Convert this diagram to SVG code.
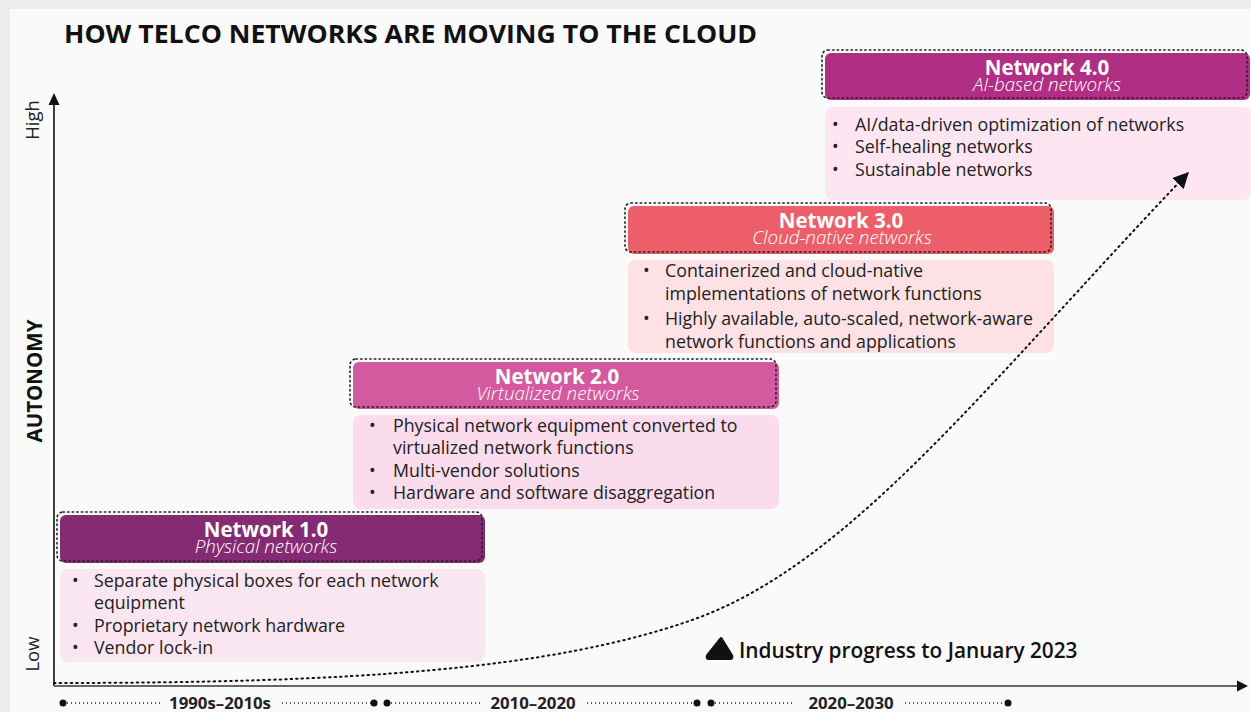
<svg xmlns="http://www.w3.org/2000/svg" width="1251" height="712" viewBox="0 0 1251 712">
<defs>
<style>
text{font-family:"Open Sans","Liberation Sans",sans-serif;}
.title{font-size:25px;font-weight:700;fill:#111;}
.hd{text-anchor:middle;fill:#fff;}
.hd1{font-size:20.5px;font-weight:700;}
.sub{font-size:18.8px;font-style:italic;font-weight:300;}
.bl{font-size:17.8px;fill:#222;}
.dot{fill:none;stroke:#222;stroke-width:1.6;stroke-dasharray:1.4 3.2;stroke-linecap:round;}
.tl{font-size:16.8px;font-weight:700;fill:#222;text-anchor:middle;}
.tld{fill:none;stroke:#222;stroke-width:1.4;stroke-dasharray:1 3;}
.ax{font-size:18.5px;fill:#222;}
</style>
<marker id="curveArrow" viewBox="0 0 12 12" refX="11" refY="6" markerWidth="16" markerHeight="16" orient="auto" markerUnits="userSpaceOnUse">
<path d="M0,0 L12,6 L0,12 Z" fill="#111"/>
</marker>
</defs>
<rect x="0" y="0" width="1251" height="712" fill="#ececec"/>
<rect x="10" y="9" width="1241" height="703" fill="#fafafa"/>
<text class="title" x="64" y="43" textLength="693" lengthAdjust="spacingAndGlyphs">HOW TELCO NETWORKS ARE MOVING TO THE CLOUD</text>

<g id="axes">
<line x1="54" y1="686" x2="54" y2="104" stroke="#111" stroke-width="1.6"/>
<path d="M54,93 L59.5,105 L48.5,105 Z" fill="#111"/>
<line x1="54" y1="686" x2="1238" y2="686" stroke="#666" stroke-width="2"/>
<path d="M1248,686 L1237,680.5 L1237,691.5 Z" fill="#111"/>
<text class="ax" transform="translate(39,120) rotate(-90)" text-anchor="middle">High</text>
<text class="ax" transform="translate(39,654) rotate(-90)" text-anchor="middle">Low</text>
<text transform="translate(42,381) rotate(-90)" text-anchor="middle" style="font-size:20.5px;font-weight:700;fill:#111">AUTONOMY</text>
</g>

<g id="net1">
<rect x="60" y="569" width="425" height="93" rx="8" fill="#f9e6f1"/>
<rect x="60" y="515" width="425" height="48" rx="6" fill="#852b74"/>
<rect x="57" y="512" width="425" height="49" rx="6" class="dot"/>
<text class="hd"><tspan class="hd1" x="266" y="537">Network 1.0</tspan><tspan class="sub" x="266" y="553">Physical networks</tspan></text>
<text class="bl" x="72" y="587">•</text><text class="bl" x="94" y="587">Separate physical boxes for each network</text>
<text class="bl" x="94" y="609">equipment</text>
<text class="bl" x="72" y="632">•</text><text class="bl" x="94" y="632">Proprietary network hardware</text>
<text class="bl" x="72" y="654">•</text><text class="bl" x="94" y="654">Vendor lock-in</text>
</g>

<g id="net2">
<rect x="353" y="415" width="426" height="94" rx="8" fill="#fadcec"/>
<rect x="353" y="362" width="426" height="47" rx="6" fill="#d35a9e"/>
<rect x="350" y="359" width="426" height="48" rx="6" class="dot"/>
<text class="hd"><tspan class="hd1" x="557" y="384">Network 2.0</tspan><tspan class="sub" x="558" y="400">Virtualized networks</tspan></text>
<text class="bl" x="369" y="432">•</text><text class="bl" x="393" y="432">Physical network equipment converted to</text>
<text class="bl" x="393" y="454">virtualized network functions</text>
<text class="bl" x="369" y="477">•</text><text class="bl" x="393" y="477">Multi-vendor solutions</text>
<text class="bl" x="369" y="499">•</text><text class="bl" x="393" y="499">Hardware and software disaggregation</text>
</g>

<g id="net3">
<rect x="628" y="260" width="426" height="93" rx="8" fill="#fde1e5"/>
<rect x="628" y="206" width="426" height="48" rx="6" fill="#ec5f6a"/>
<rect x="625" y="203" width="426" height="49" rx="6" class="dot"/>
<text class="hd"><tspan class="hd1" x="841" y="228">Network 3.0</tspan><tspan class="sub" x="842" y="244">Cloud-native networks</tspan></text>
<text class="bl" x="643" y="277">•</text><text class="bl" x="665" y="277">Containerized and cloud-native</text>
<text class="bl" x="665" y="300">implementations of network functions</text>
<text class="bl" x="643" y="325">•</text><text class="bl" x="665" y="325">Highly available, auto-scaled, network-aware</text>
<text class="bl" x="665" y="348">network functions and applications</text>
</g>

<g id="net4">
<rect x="825" y="107" width="426" height="93" rx="8" fill="#fde6f1"/>
<rect x="825" y="53" width="425" height="47" rx="6" fill="#b12e85"/>
<rect x="822" y="50" width="425" height="48" rx="6" class="dot"/>
<text class="hd"><tspan class="hd1" x="1047" y="75">Network 4.0</tspan><tspan class="sub" x="1047" y="91">AI-based networks</tspan></text>
<text class="bl" x="832" y="131">•</text><text class="bl" x="855" y="131">AI/data-driven optimization of networks</text>
<text class="bl" x="832" y="153">•</text><text class="bl" x="855" y="153">Self-healing networks</text>
<text class="bl" x="832" y="176">•</text><text class="bl" x="855" y="176">Sustainable networks</text>
</g>

<g id="connectors">
<path d="M54,683 C350,683 550,670 692,620 C850,565 990,380 1188,173" fill="none" stroke="#111" stroke-width="2" stroke-dasharray="1.5 4" stroke-linecap="round" marker-end="url(#curveArrow)"/>
</g>

<g id="legend">
<path d="M719.5,638 Q721,636 722.5,638 L733,655 Q734.5,660 730,660 L709,660 Q704.5,660 706,655 Z" fill="#111"/>
<text x="739" y="658" style="font-size:20.8px;font-weight:600;fill:#111">Industry progress to January 2023</text>
</g>

<g id="timeline">
<line class="tld" x1="63" y1="703" x2="160" y2="703"/>
<line class="tld" x1="282" y1="703" x2="374" y2="703"/>
<line class="tld" x1="387" y1="703" x2="480" y2="703"/>
<line class="tld" x1="587" y1="703" x2="697" y2="703"/>
<line class="tld" x1="711" y1="703" x2="795" y2="703"/>
<line class="tld" x1="905" y1="703" x2="1008" y2="703"/>
<circle cx="63" cy="703" r="3.5" fill="#111"/>
<circle cx="374" cy="703" r="3.5" fill="#111"/>
<circle cx="387" cy="703" r="3.5" fill="#111"/>
<circle cx="697" cy="703" r="3.5" fill="#111"/>
<circle cx="711" cy="703" r="3.5" fill="#111"/>
<circle cx="1008" cy="703" r="3.5" fill="#111"/>
<text class="tl" x="220" y="709">1990s–2010s</text>
<text class="tl" x="533" y="709">2010–2020</text>
<text class="tl" x="851" y="709">2020–2030</text>
</g>
</svg>
